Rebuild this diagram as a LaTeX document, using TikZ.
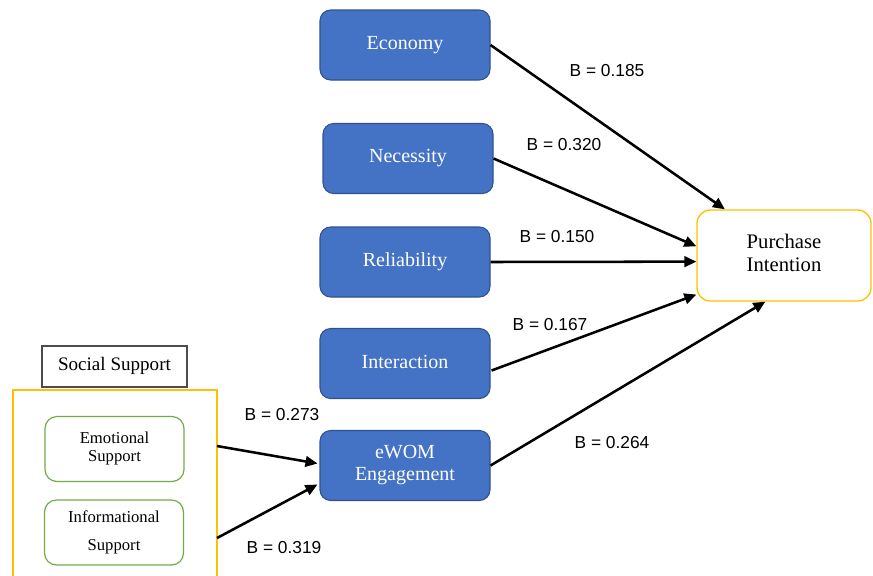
\documentclass[tikz,border=0pt]{standalone}
\usepackage{fontspec}
\setmainfont{Liberation Serif}
\newfontfamily\labfont{Liberation Sans}
\usetikzlibrary{arrows.meta,calc}
\definecolor{boxblue}{HTML}{4472C4}
\definecolor{boxedge}{HTML}{2F528F}
\definecolor{frameyellow}{HTML}{FFC000}
\definecolor{boxgreen}{HTML}{70AD47}
\newcommand{\twolines}[2]{\begin{tabular}{@{}c@{}}#1\\#2\end{tabular}}
\tikzset{
  bluebox/.style={draw=boxedge, line width=0.8pt, fill=boxblue, rounded corners=8pt,
    text=white, font=\fontsize{15}{16.5}\selectfont, align=center,
    minimum width={170*0.75pt}, minimum height={70*0.75pt}, inner sep=0pt},
  greenbox/.style={draw=boxgreen, line width=0.9pt, fill=white, rounded corners=9pt,
    font=\fontsize{12.5}{13}\selectfont, align=center,
    minimum width={139*0.75pt}, minimum height={65*0.75pt}, inner sep=0pt},
  pibox/.style={draw=frameyellow, line width=1pt, fill=white, rounded corners=10pt,
    font=\fontsize{15.5}{17}\selectfont, align=center,
    minimum width={174*0.75pt}, minimum height={91*0.75pt}, inner sep=0pt},
  lblbox/.style={draw=black!70, line width=0.8pt, fill=white,
    font=\fontsize{14.3}{16}\selectfont,
    minimum width={145*0.75pt}, minimum height={41*0.75pt}, inner sep=0pt},
  arr/.style={line width=1.9pt, -{Triangle[length=9pt,width=8pt]}},
  blab/.style={font=\labfont\fontsize{13}{15}\selectfont, inner sep=0pt}
}
\begin{document}
\begin{tikzpicture}[x=0.75pt,y=-0.75pt]
\useasboundingbox (0,0) rectangle (873,575);
% main boxes
\node[bluebox] (eco) at (405,45) {\raisebox{3pt}{Economy}};
\node[bluebox] (nec) at (408,158.5) {\raisebox{3pt}{Necessity}};
\node[bluebox] (rel) at (405,262) {\raisebox{3pt}{Reliability}};
\node[bluebox] (inter) at (405,363.5) {\raisebox{3pt}{Interaction}};
\node[bluebox] (ewom) at (405,465.5) {eWOM\\Engagement};
\node[pibox] (pi) at (784,255.5) {\raisebox{4.5pt}{\twolines{Purchase}{Intention}}};
% social support
\node[lblbox] (ss) at (114.5,366.5) {\raisebox{4pt}{Social Support}};
\draw[frameyellow, line width=1pt] (13,576) -- (13,390) -- (217,390) -- (217,576);
\coordinate (f1) at (217,446);
\coordinate (f2) at (217,538);
\node[greenbox] (emo) at (114.5,449) {\raisebox{3.5pt}{\twolines{Emotional}{Support}}};
\node[greenbox] (info) at (114,532.5) {Informational\\[8pt]Support};
% arrows
\draw[arr] (eco.east) -- (pi.142);
\draw[arr] (nec.east) -- (pi.174);
\draw[arr] (rel.east) -- (pi.184);
\draw[arr] ($(inter.east)+(1,7)$) -- (pi.204);
\draw[arr] (ewom.east) -- (pi.248);
\draw[arr] (f1) -- ($(ewom.west)+(-2,-2)$);
\draw[arr] (f2) -- ($(ewom.west)+(-2,19)$);
% labels
\node[blab] (l1) at (607,71) {B = 0.185};
\node[blab] (l2) at (564,145) {B = 0.320};
\node[blab] (l3) at (557,237) {B = 0.150};
\node[blab] (l4) at (550,325) {B = 0.167};
\node[blab] (l5) at (612,443) {B = 0.264};
\node[blab] (l6) at (282,415) {B = 0.273};
\node[blab] (l7) at (284,548) {B = 0.319};
\end{tikzpicture}
\end{document}
